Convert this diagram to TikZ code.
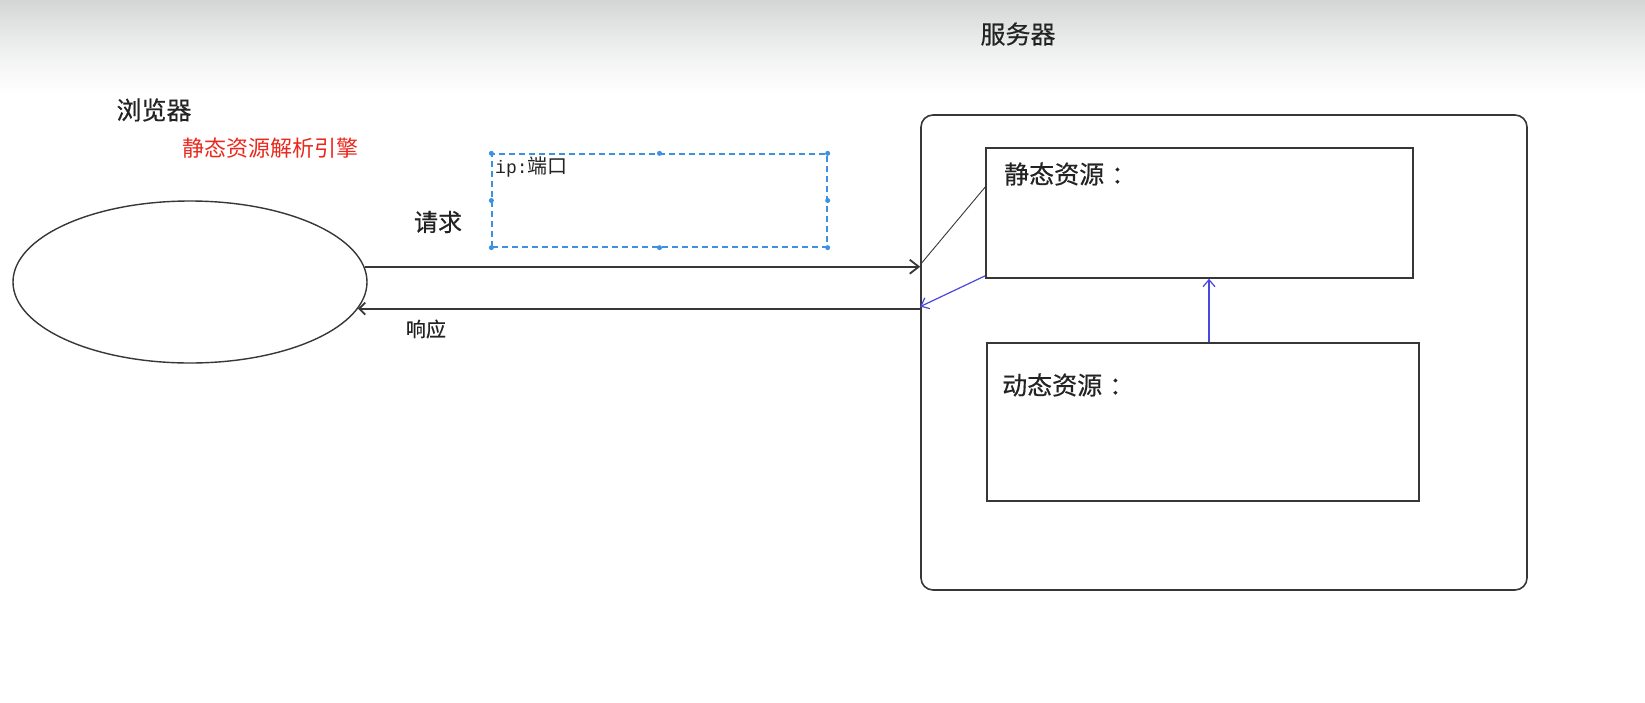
\documentclass[tikz,border=0pt]{standalone}
\usepackage{fontspec}
\newfontfamily\cjk[FakeBold=0.4]{Noto Sans CJK SC}
\newfontfamily\cjkthin{Noto Sans CJK SC}
\newfontfamily\monofnt{Liberation Mono}
\usetikzlibrary{shapes.geometric,arrows.meta,calc}
\definecolor{topgray}{RGB}{212,214,214}
\definecolor{inkc}{RGB}{35,35,35}
\definecolor{linec}{RGB}{55,55,55}
\definecolor{blueln}{RGB}{72,72,225}
\definecolor{selblue}{RGB}{60,145,225}
\definecolor{redtxt}{RGB}{235,40,30}
\tikzset{
  lbl/.style={font=\cjk\fontsize{25}{28}\selectfont, text=inkc, inner sep=0pt},
  boxline/.style={draw=linec, line width=1.6pt},
  conn/.style={draw=linec, line width=1.8pt},
  thinconn/.style={draw=linec, line width=0.9pt},
  bluearr/.style={draw=blueln, line width=1.2pt, -{Straight Barb[length=7pt,width=12pt]}},
  handle/.style={circle, fill=selblue, inner sep=0pt, minimum size=5pt},
}
\begin{document}
\begin{tikzpicture}[x=1pt,y=-1pt]
\useasboundingbox (0,0) rectangle (1645,702);
\fill[white] (0,0) rectangle (1645,702);
\foreach \i in {0,...,59} {
  \pgfmathsetmacro{\pc}{100*(1-\i/60)^1.3}
  \fill[topgray!\pc!white] (0,{\i*1.6}) rectangle (1645,{\i*1.6+1.8});
}

% titles
\node[lbl] (srvlbl) at (1018,34) {服务器};
\node[lbl] (brwlbl) at (154,110) {浏览器};
\node[lbl, font=\cjkthin\fontsize{22}{26}\selectfont, text=redtxt] (engine) at (270,148) {静态资源解析引擎};

% browser ellipse
\node[ellipse, draw=linec, line width=1.4pt, minimum width=354pt, minimum height=162pt, inner sep=0pt] (browser) at (190,282) {};

% server
\node[boxline, rounded corners=12pt, minimum width=606pt, minimum height=475pt, inner sep=0pt] (server) at (1224,352.5) {};
\node[boxline, minimum width=427pt, minimum height=130pt, inner sep=0pt] (static) at (1199.5,213) {};
\node[boxline, minimum width=432pt, minimum height=158pt, inner sep=0pt] (dynamic) at (1203,422) {};
\node[lbl, anchor=west] (staticlbl) at (1004,174) {静态资源\hspace{7pt}：};
\node[lbl, anchor=west] (dynlbl) at (1002,385) {动态资源\hspace{7pt}：};

% ip box (selected text box)
\node[draw=selblue, line width=1.3pt, dash pattern=on 6pt off 4pt, minimum width=335pt, minimum height=93pt, inner sep=0pt] (ipbox) at (659.5,200.5) {};
\node[anchor=north west, inner sep=0pt, text=inkc] (iplbl) at (495,157) {\monofnt\fontsize{18}{20}\selectfont ip:\cjkthin\fontsize{20}{22}\selectfont 端口};
\foreach \a in {north west,north,north east,west,east,south west,south,south east}
  \node[handle] at (ipbox.\a) {};

% labels on connectors
\node[lbl, font=\cjk\fontsize{24}{28}\selectfont] (reqlbl) at (438,222) {请求};
\node[lbl, font=\cjk\fontsize{20}{24}\selectfont] (resplbl) at (426,329) {响应};

% request / response
\draw[conn, -{Straight Barb[length=9pt,width=14pt]}] (browser.5) -- (browser.5 -| server.west);
\draw[conn, -{Straight Barb[length=6pt,width=12pt]}] (browser.-9.5 -| server.west) -- (browser.-9.5);

% links inside server
\draw[thinconn] ([yshift=26pt]static.west) -- ([yshift=2pt]browser.5 -| server.west);
\draw[bluearr] ([yshift=3pt]static.south west) -- ([yshift=2pt]browser.-9.5 -| server.west);
\draw[bluearr] ([xshift=6pt]dynamic.north) -- ([xshift=9.5pt]static.south);
\end{tikzpicture}
\end{document}
